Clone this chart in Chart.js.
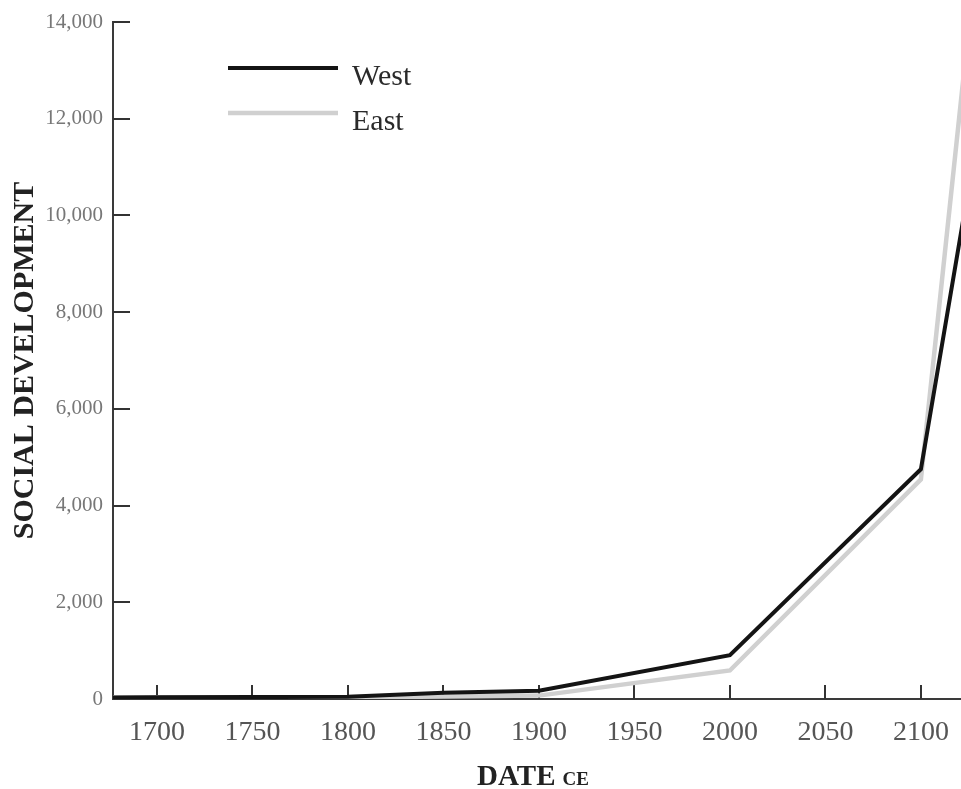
<!DOCTYPE html>
<html>
<head>
<meta charset="utf-8">
<title>Social development, West and East</title>
<script src="https://cdn.jsdelivr.net/npm/chart.js@4.4.1/dist/chart.umd.min.js"></script>
<style>
    html, body { margin: 0; padding: 0; background: #ffffff; }
    #wrap { position: relative; width: 961px; height: 789px; }
</style>
</head>
<body>
<div id="wrap">
    <canvas id="socialChart" width="961" height="789"></canvas>
</div>
<script>
// Data (years CE, social development points)
const years = [1650, 1700, 1800, 1850, 1900, 2000, 2100, 2150];
const westValues = [25, 35, 45, 130, 170, 906, 4750, 16400];
const eastValues = [25, 36, 36, 50, 70, 590, 4540, 23200];

const xTickValues = [1700, 1750, 1800, 1850, 1900, 1950, 2000, 2050, 2100];
const yTickValues = [0, 2000, 4000, 6000, 8000, 10000, 12000, 14000];

const seriesLabels = ['West', 'East'];
const seriesColors = ['#141414', '#d0d0d0'];

const SERIF = '"Liberation Serif", "DejaVu Serif", serif';

/**
 * Tick marks drawn on the inside of the axes, as in the print figure
 */
const innerTicks = {
    id: 'innerTicks',
    beforeDatasetsDraw(chart) {
        const { ctx, chartArea, scales } = chart;
        ctx.save();
        ctx.strokeStyle = '#333333';
        ctx.lineWidth = 2;
        ctx.beginPath();
        xTickValues.forEach(v => {
            const x = Math.round(scales.x.getPixelForValue(v));
            ctx.moveTo(x, chartArea.bottom);
            ctx.lineTo(x, chartArea.bottom - 14);
        });
        yTickValues.forEach(v => {
            const y = Math.round(scales.y.getPixelForValue(v));
            ctx.moveTo(chartArea.left, y);
            ctx.lineTo(chartArea.left + 17, y);
        });
        ctx.stroke();
        ctx.restore();
    }
};

/**
 * Legend in the top left of the plot, plus the "DATE CE" title with small caps
 */
const figureText = {
    id: 'figureText',
    afterDraw(chart) {
        const { ctx, chartArea } = chart;
        ctx.save();

        // legend
        seriesLabels.forEach((label, i) => {
            const y = chartArea.top + 46 + i * 45;
            ctx.strokeStyle = seriesColors[i];
            ctx.lineWidth = i === 0 ? 4 : 4.5;
            ctx.beginPath();
            ctx.moveTo(chartArea.left + 115, y);
            ctx.lineTo(chartArea.left + 225, y);
            ctx.stroke();
            ctx.fillStyle = '#2a2a2a';
            ctx.font = '30px ' + SERIF;
            ctx.textAlign = 'left';
            ctx.textBaseline = 'alphabetic';
            ctx.fillText(label, chartArea.left + 239, y + 17);
        });

        // x axis title
        const big = 'bold 29px ' + SERIF;
        const small = 'bold 19px ' + SERIF;
        ctx.font = big;
        const w1 = ctx.measureText('DATE').width;
        ctx.font = small;
        const w2 = ctx.measureText('CE').width;
        const gap = 7;
        const cx = 533;
        let x = cx - (w1 + gap + w2) / 2;
        const base = 785;
        ctx.fillStyle = '#222222';
        ctx.textAlign = 'left';
        ctx.textBaseline = 'alphabetic';
        ctx.font = big;
        ctx.fillText('DATE', x, base);
        ctx.font = small;
        ctx.fillText('CE', x + w1 + gap, base);

        ctx.restore();
    }
};

const ctx = document.getElementById('socialChart');

const chart = new Chart(ctx, {
    type: 'line',
    data: {
        datasets: [
            {
                label: seriesLabels[0],
                data: years.map((yr, i) => ({ x: yr, y: westValues[i] })),
                borderColor: seriesColors[0],
                borderWidth: 4,
                pointRadius: 0,
                tension: 0,
                borderJoinStyle: 'miter'
            },
            {
                label: seriesLabels[1],
                data: years.map((yr, i) => ({ x: yr, y: eastValues[i] })),
                borderColor: seriesColors[1],
                borderWidth: 4.5,
                pointRadius: 0,
                tension: 0,
                borderJoinStyle: 'miter'
            }
        ]
    },
    options: {
        responsive: false,
        animation: false,
        devicePixelRatio: 1,
        layout: {
            autoPadding: false,
            padding: { top: 22, right: 0, bottom: 0, left: 0 }
        },
        plugins: {
            legend: { display: false },
            tooltip: { enabled: false }
        },
        scales: {
            x: {
                type: 'linear',
                min: 1677,
                max: 2121,
                afterBuildTicks: scale => {
                    scale.ticks = xTickValues.map(v => ({ value: v }));
                },
                afterFit: scale => {
                    scale.height = 90;
                    scale.paddingLeft = 0;
                    scale.paddingRight = 0;
                },
                grid: { display: false, drawTicks: false },
                border: { display: true, color: '#3a3a3a', width: 2 },
                ticks: {
                    padding: 17,
                    color: '#555555',
                    font: { family: SERIF, size: 28 },
                    maxRotation: 0,
                    autoSkip: false,
                    callback: v => String(v)
                }
            },
            y: {
                type: 'linear',
                min: 0,
                max: 14000,
                afterBuildTicks: scale => {
                    scale.ticks = yTickValues.map(v => ({ value: v }));
                },
                afterFit: scale => {
                    scale.width = 113;
                    scale.paddingTop = 0;
                    scale.paddingBottom = 0;
                },
                grid: { display: false, drawTicks: false },
                border: { display: true, color: '#3a3a3a', width: 2 },
                ticks: {
                    padding: 10,
                    color: '#777777',
                    font: { family: SERIF, size: 21 },
                    callback: v => v.toLocaleString('en-US')
                },
                title: {
                    display: true,
                    text: 'SOCIAL DEVELOPMENT',
                    color: '#222222',
                    font: { family: SERIF, size: 30, weight: 'bold' },
                    padding: { top: 7, bottom: 0 }
                }
            }
        }
    },
    plugins: [innerTicks, figureText]
});
</script>
</body>
</html>
